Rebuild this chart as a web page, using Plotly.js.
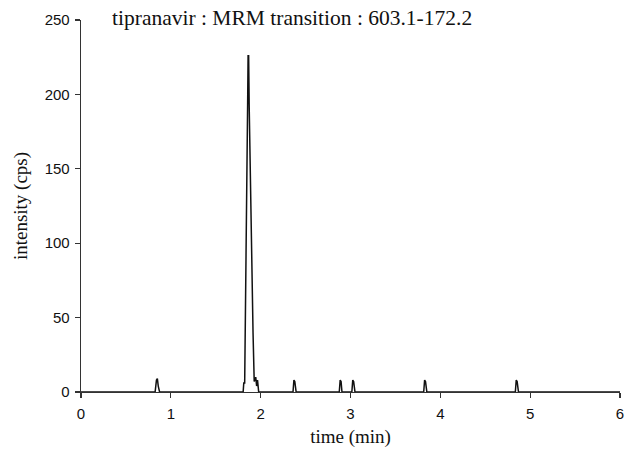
<!DOCTYPE html>
<html>
<head>
<meta charset="utf-8">
<script src="https://cdn.plot.ly/plotly-3.0.1.min.js"></script>
<style>html,body{margin:0;padding:0;background:#fff;}#chart{width:635px;height:458px;}</style>
</head>
<body>
<div id="chart"></div>
<script>
// time (min) and intensity (cps)
const timeMin = [
  0.00, 0.80, 0.825, 0.840, 0.850, 0.860, 0.875,
  1.805, 1.812, 1.822, 1.826, 1.835, 1.848, 1.856, 1.860, 1.866, 1.872, 1.885, 1.900, 1.915, 1.928, 1.935, 1.945, 1.955, 1.965, 1.978,
  2.34, 2.360, 2.370, 2.380, 2.395,
  2.86, 2.875, 2.885, 2.895, 2.905,
  3.00, 3.015, 3.025, 3.035, 3.050,
  3.80, 3.815, 3.825, 3.835, 3.850,
  4.82, 4.835, 4.845, 4.855, 4.870,
  6.00
];
const intensity = [
  0, 0, 0, 8, 9, 4, 0,
  0, 6, 6, 33, 114, 194, 200, 226, 226, 193, 140, 90, 40, 7, 9, 10, 4, 8, 0,
  0, 0, 8, 7, 0,
  0, 0, 8, 7, 0,
  0, 0, 8, 7, 0,
  0, 0, 8, 7, 0,
  0, 0, 8, 7, 0,
  0
];
const xTicks = [0, 1, 2, 3, 4, 5, 6];
const yTicks = [0, 50, 100, 150, 200, 250];

const trace = {
  x: timeMin, y: intensity, type: 'scatter', mode: 'lines',
  line: {color: '#111', width: 1.5}, hoverinfo: 'none'
};
const axisCommon = {
  showline: true, linecolor: '#333', linewidth: 1.3,
  ticks: 'outside', ticklen: 5, tickwidth: 1.3, tickcolor: '#333',
  showgrid: false, zeroline: false,
  tickfont: {family: 'Liberation Sans, Arial, sans-serif', size: 15, color: '#111'}
};
const layout = {
  width: 635, height: 458,
  margin: {l: 81, r: 15, t: 20, b: 66},
  paper_bgcolor: '#fff', plot_bgcolor: '#fff',
  showlegend: false,
  title: {
    text: 'tipranavir : MRM transition : 603.1-172.2',
    font: {family: 'Liberation Serif, Times New Roman, serif', size: 21.5, color: '#111'},
    x: 0.46, xanchor: 'center', y: 0.962, yanchor: 'middle'
  },
  xaxis: Object.assign({}, axisCommon, {
    range: [0, 6], tickvals: xTicks, ticktext: xTicks.map(String),
    ticklabelstandoff: 3,
    title: {text: 'time (min)', standoff: 8,
      font: {family: 'Liberation Serif, Times New Roman, serif', size: 19, color: '#111'}}
  }),
  yaxis: Object.assign({}, axisCommon, {
    range: [0, 250], tickvals: yTicks, ticktext: yTicks.map(String),
    ticklabelstandoff: 2,
    title: {text: 'intensity (cps)', standoff: 12,
      font: {family: 'Liberation Serif, Times New Roman, serif', size: 19, color: '#111'}}
  })
};
Plotly.newPlot('chart', [trace], layout, {staticPlot: true, displayModeBar: false});
</script>
</body>
</html>
